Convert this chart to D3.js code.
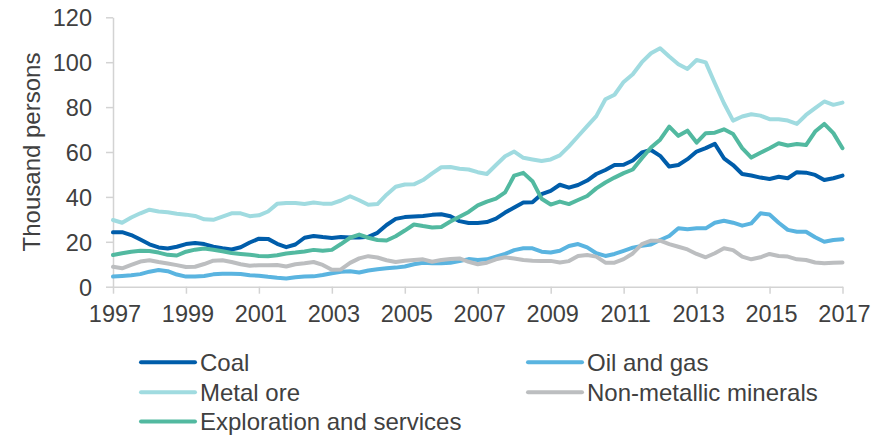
<!DOCTYPE html>
<html>
<head>
<meta charset="utf-8">
<script src="https://cdn.jsdelivr.net/npm/d3@7"></script>
<style>
  html, body { margin: 0; padding: 0; background: #ffffff; }
  svg { display: block; font-family: "Liberation Sans", Arial, sans-serif; }
</style>
</head>
<body>
<svg id="chart" width="893" height="435"></svg>
<script>
// Quarterly employment in mining, thousand persons, 1997 Q1 to 2017 Q1
const startYear = 1997;
const yearTicks = [1997, 1999, 2001, 2003, 2005, 2007, 2009, 2011, 2013, 2015, 2017];
const valueTicks = [0, 20, 40, 60, 80, 100, 120];

const coal = [24.2, 24.3, 23.0, 21.0, 18.9, 17.5, 17.0, 17.8, 19.0, 19.5,
  19.0, 17.8, 17.1, 16.6, 17.6, 19.7, 21.4, 21.3, 19.1, 17.6,
  18.8, 21.8, 22.6, 22.1, 21.7, 22.1, 21.9, 21.9, 22.2, 24.0,
  27.5, 30.2, 31.0, 31.3, 31.5, 32.0, 32.3, 31.4, 29.2, 28.4,
  28.4, 28.8, 30.3, 33.0, 35.3, 37.5, 37.6, 41.2, 42.7, 45.4,
  44.1, 45.3, 47.3, 50.2, 52.0, 54.2, 54.3, 56.2, 59.8, 60.9,
  58.3, 53.5, 54.2, 56.8, 60.2, 61.7, 63.6, 57.2, 54.2, 50.2,
  49.5, 48.6, 48.0, 49.0, 48.3, 51.0, 50.8, 49.8, 47.5, 48.3, 49.5];

const oilGas = [4.5, 4.8, 5.1, 5.6, 6.7, 7.4, 6.9, 5.4, 4.5, 4.5,
  4.8, 5.5, 5.8, 5.8, 5.7, 5.1, 4.9, 4.4, 4.0, 3.7,
  4.2, 4.5, 4.6, 5.2, 6.0, 6.7, 6.9, 6.3, 7.2, 7.8,
  8.2, 8.5, 9.0, 10.0, 10.7, 10.4, 10.4, 10.7, 11.4, 12.3,
  11.9, 12.2, 13.4, 14.6, 16.3, 17.1, 17.1, 15.6, 15.2, 16.0,
  18.1, 19.0, 17.5, 14.9, 13.7, 14.6, 16.0, 17.4, 18.2, 18.8,
  20.8, 22.6, 26.0, 25.6, 26.0, 26.0, 28.5, 29.4, 28.5, 27.2,
  28.2, 32.7, 32.2, 28.5, 25.3, 24.5, 24.5, 22.0, 20.0, 20.8, 21.1];

const metalOre = [29.7, 28.5, 30.8, 32.7, 34.3, 33.5, 33.2, 32.5, 32.1, 31.5,
  30.0, 29.8, 31.2, 32.7, 32.7, 31.4, 31.8, 33.5, 36.9, 37.3,
  37.3, 36.8, 37.5, 37.0, 37.0, 38.4, 40.3, 38.5, 36.5, 36.8,
  41.0, 44.5, 45.5, 45.6, 47.5, 50.5, 53.2, 53.3, 52.5, 52.2,
  51.0, 50.2, 54.2, 58.1, 60.2, 57.4, 56.7, 56.0, 56.7, 58.5,
  62.5, 67.0, 71.5, 76.0, 83.5, 85.5, 91.2, 94.6, 100.0, 104.0,
  106.2, 102.5, 99.1, 97.0, 101.0, 99.9, 90.6, 81.7, 74.0, 75.8,
  76.8, 76.2, 74.6, 74.6, 74.0, 72.5, 76.5, 79.5, 82.5, 81.0, 82.0];

const nonMetallic = [8.9, 8.2, 9.7, 11.2, 11.8, 11.0, 10.3, 9.6, 8.8, 8.9,
  10.1, 11.6, 11.8, 11.0, 10.0, 9.3, 9.6, 9.6, 9.7, 9.0,
  10.0, 10.4, 11.0, 9.7, 7.5, 7.7, 10.6, 12.6, 13.6, 13.0,
  11.8, 11.0, 11.6, 11.9, 12.2, 11.1, 11.9, 12.3, 12.6, 11.1,
  10.0, 10.7, 12.2, 13.1, 12.6, 11.9, 11.6, 11.4, 11.5, 10.8,
  11.4, 13.7, 14.1, 13.4, 10.7, 10.7, 12.3, 14.8, 19.0, 20.5,
  20.5, 19.0, 17.8, 16.6, 14.6, 13.1, 14.9, 17.1, 16.3, 13.4,
  12.2, 13.1, 14.6, 13.7, 13.4, 12.2, 11.9, 10.8, 10.4, 10.7, 10.8];

const exploration = [14.1, 14.9, 15.6, 16.0, 15.9, 15.2, 14.2, 13.9, 15.6, 16.5,
  17.0, 16.5, 15.8, 15.0, 14.6, 14.2, 13.7, 13.6, 14.0, 14.8,
  15.2, 15.7, 16.4, 16.0, 16.4, 19.0, 21.8, 23.2, 21.8, 20.8,
  20.6, 22.5, 25.0, 27.7, 27.0, 26.4, 26.6, 29.0, 31.2, 33.3,
  36.2, 37.9, 39.2, 42.0, 49.5, 50.7, 47.0, 39.2, 36.6, 37.9,
  36.8, 38.6, 40.4, 43.8, 46.4, 48.6, 50.6, 52.2, 57.2, 62.0,
  65.5, 71.3, 67.2, 69.5, 64.2, 68.4, 68.6, 70.1, 68.0, 61.7,
  57.5, 59.7, 61.7, 63.9, 62.9, 63.6, 63.1, 69.1, 72.5, 68.4, 61.7];

const seriesNames = ["Coal", "Oil and gas", "Metal ore", "Non-metallic minerals", "Exploration and services"];
const seriesValues = [coal, oilGas, metalOre, nonMetallic, exploration];
const seriesColors = ["#005daa", "#5ab4e0", "#a0dbe0", "#bcbec0", "#52b9a0"];

const svg = d3.select("#chart");
const textColor = "#404040";
const axisColor = "#d3d3d3";

const x = d3.scaleLinear().domain([1997, 2017]).range([113, 842.5]);
const y = d3.scaleLinear().domain([0, 120]).range([286.7, 17.3]);

// Y axis
const yAxis = svg.append("g")
  .attr("transform", `translate(${x.range()[0]},0)`)
  .call(d3.axisLeft(y).tickValues(valueTicks).tickSize(7).tickPadding(14).tickSizeOuter(0));
yAxis.select(".domain").attr("stroke", axisColor).attr("stroke-width", 1.5);
yAxis.selectAll(".tick line").attr("stroke", axisColor).attr("stroke-width", 1.5);
yAxis.selectAll(".tick text")
  .attr("fill", textColor)
  .attr("font-size", "23.5px")
  .attr("font-family", "'Liberation Sans', Arial, sans-serif")
  .attr("dy", "0.36em");

// X axis
const xAxis = svg.append("g")
  .attr("transform", `translate(0,${y(0)})`)
  .call(d3.axisBottom(x).tickValues(yearTicks).tickFormat(d3.format("d")).tickSize(7).tickPadding(12).tickSizeOuter(0));
xAxis.select(".domain").attr("stroke", axisColor).attr("stroke-width", 1.5);
xAxis.selectAll(".tick line").attr("stroke", axisColor).attr("stroke-width", 1.5);
xAxis.selectAll(".tick text")
  .attr("fill", textColor)
  .attr("font-size", "23.5px")
  .attr("font-family", "'Liberation Sans', Arial, sans-serif")
  .attr("dx", "1.5");

// Axis title
svg.append("text")
  .attr("transform", `translate(40,152) rotate(-90)`)
  .attr("text-anchor", "middle")
  .attr("fill", textColor)
  .attr("font-size", "24px")
  .text("Thousand persons");

// Series lines
const line = d3.line()
  .x((d, i) => x(startYear + i / 4))
  .y(d => y(d));

svg.append("g")
  .selectAll("path")
  .data(seriesValues)
  .join("path")
  .attr("d", d => line(d))
  .attr("fill", "none")
  .attr("stroke", (d, i) => seriesColors[i])
  .attr("stroke-width", 4)
  .attr("stroke-linejoin", "round")
  .attr("stroke-linecap", "round");

// Legend: two columns, filled row by row
const legendCols = [141, 528];
const legendRows = [362.3, 392.2, 421.5];
const legend = svg.append("g")
  .selectAll("g")
  .data(seriesNames)
  .join("g")
  .attr("transform", (d, i) => `translate(${legendCols[i % 2]},${legendRows[Math.floor(i / 2)]})`);

legend.append("line")
  .attr("x1", 0).attr("x2", 54)
  .attr("y1", 0).attr("y2", 0)
  .attr("stroke", (d, i) => seriesColors[i])
  .attr("stroke-width", 4)
  .attr("stroke-linecap", "round");

legend.append("text")
  .attr("x", 59)
  .attr("y", 8.5)
  .attr("fill", textColor)
  .attr("font-size", "24px")
  .text(d => d);
</script>
</body>
</html>
